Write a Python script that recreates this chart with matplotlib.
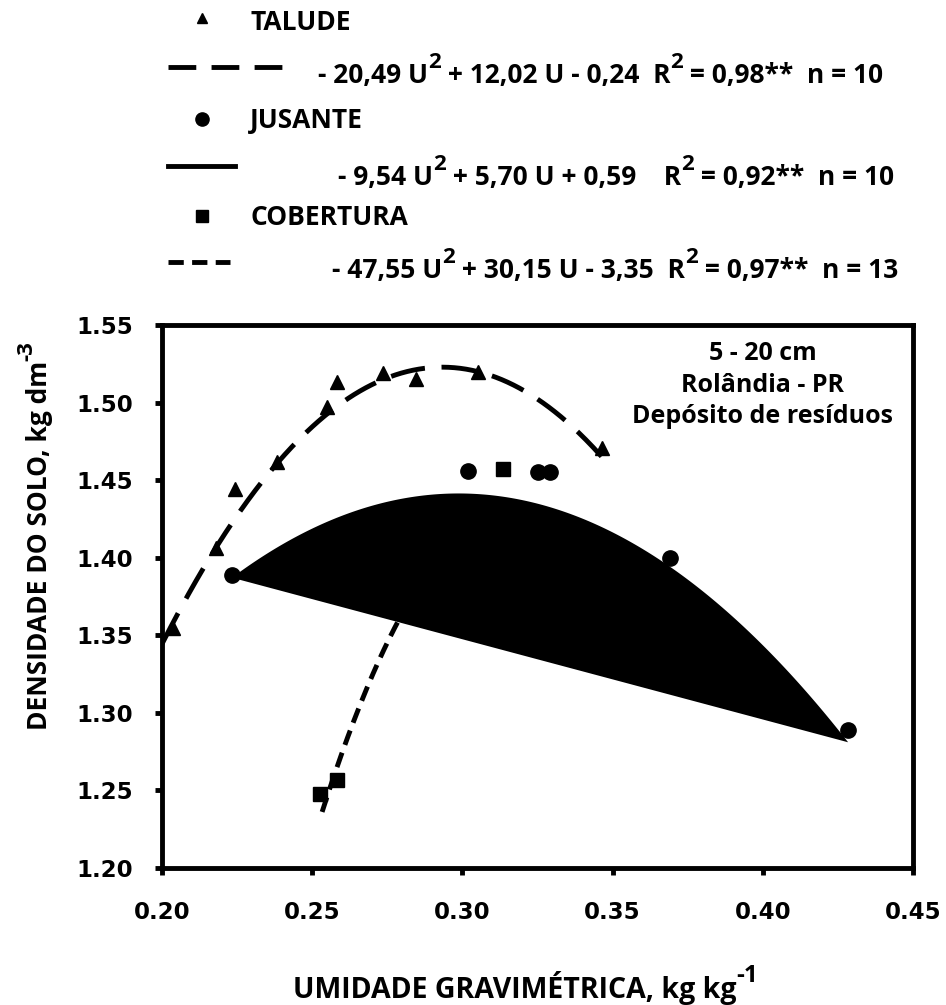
import matplotlib
matplotlib.use('Agg')
import matplotlib.pyplot as plt
import numpy as np
from matplotlib.lines import Line2D

plt.rcParams['lines.scale_dashes'] = False

# ---------------- data ----------------
talude_u = [0.2037, 0.2180, 0.2243, 0.2383, 0.2549, 0.2583, 0.2736, 0.2846, 0.3052, 0.3465]
talude_d = [1.355, 1.406, 1.444, 1.462, 1.497, 1.513, 1.519, 1.515, 1.520, 1.471]
jusante_u = [0.2233, 0.3019, 0.3252, 0.3292, 0.3691, 0.4284]
jusante_d = [1.389, 1.456, 1.455, 1.455, 1.400, 1.289]
cobertura_u = [0.2526, 0.2583, 0.3135]
cobertura_d = [1.248, 1.257, 1.457]

talude_coef = [-20.49, 12.02, -0.24]
jusante_coef = [-9.54, 5.70, 0.59]
cobertura_coef = [-47.55, 30.15, -3.35]
talude_range = [0.20, 0.347]
jusante_range = [0.2233, 0.4284]
cobertura_range = [0.2533, 0.3135]

series_names = ['TALUDE', 'JUSANTE', 'COBERTURA']
eq_parts = [
    [('- 20,49 U', False), ('2', True), (' + 12,02 U - 0,24  R', False), ('2', True), (' = 0,98**  n = 10', False)],
    [('- 9,54 U', False), ('2', True), (' + 5,70 U + 0,59    R', False), ('2', True), (' = 0,92**  n = 10', False)],
    [('- 47,55 U', False), ('2', True), (' + 30,15 U - 3,35  R', False), ('2', True), (' = 0,97**  n = 13', False)],
]
x_ticks = [0.20, 0.25, 0.30, 0.35, 0.40, 0.45]
y_ticks = [1.20, 1.25, 1.30, 1.35, 1.40, 1.45, 1.50, 1.55]
site_lines = ['5 - 20 cm', 'Rolândia - PR', 'Depósito de resíduos']
xlabel_parts = [('UMIDADE GRAVIMÉTRICA, kg kg', False), ('-1', True)]
ylabel_parts = [('DENSIDADE DO SOLO, kg dm', False), ('-3', True)]

# ---------------- figure ----------------
W, H = 946, 1005
fig = plt.figure(figsize=(W / 100, H / 100), dpi=100)
ax = fig.add_axes([162 / W, 1 - 868 / H, (913 - 162) / W, (868 - 325) / H])

LW = 3.5
def poly(c, u):
    u = np.asarray(u)
    return c[0] * u ** 2 + c[1] * u + c[2]

uc = np.linspace(*cobertura_range, 200)
ax.plot(uc, poly(cobertura_coef, uc), color='k', lw=LW, ls=(0, (11, 6)), zorder=2)

uj = np.linspace(*jusante_range, 300)
ax.fill(uj, poly(jusante_coef, uj), color='k', lw=0, zorder=3)

ut = np.linspace(*talude_range, 300)
ax.plot(ut, poly(talude_coef, ut), color='k', lw=LW, ls=(0, (25, 12)), zorder=3)

ax.plot(talude_u, talude_d, ls='none', marker='^', ms=10, color='k', zorder=5)
ax.plot(jusante_u, jusante_d, ls='none', marker='o', ms=11, color='k', zorder=5)
ax.plot(cobertura_u, cobertura_d, ls='none', marker='s', ms=9.5, color='k', zorder=5)

ax.set_xlim(0.20, 0.45)
ax.set_ylim(1.20, 1.55)
ax.set_xticks(x_ticks)
ax.set_yticks(y_ticks)
ax.set_xticklabels([f'{v:.2f}' for v in x_ticks])
ax.set_yticklabels([f'{v:.2f}' for v in y_ticks])
for s in ax.spines.values():
    s.set_linewidth(LW)
ax.tick_params(axis='both', direction='out', length=5, width=LW)
ax.tick_params(axis='x', pad=19)
ax.tick_params(axis='y', pad=16)
for lab in ax.get_xticklabels():
    lab.set_fontfamily('DejaVu Sans'); lab.set_fontweight('bold'); lab.set_fontsize(16.5)
for lab in ax.get_yticklabels():
    lab.set_fontfamily('DejaVu Sans'); lab.set_fontweight('bold'); lab.set_fontsize(16.5)

for txt, yf in zip(site_lines, [0.9355, 0.8766, 0.8195]):
    ax.text(0.80, yf, txt, transform=ax.transAxes, ha='center', va='baseline',
            fontfamily='Open Sans', fontweight='bold', fontsize=18)

# ---------------- rich text helper ----------------
renderer = fig.canvas.get_renderer()

def text_width(s, size):
    t1 = fig.text(0, 0, s + '|', fontsize=size, fontfamily='Open Sans', fontweight='bold')
    t2 = fig.text(0, 0, '|', fontsize=size, fontfamily='Open Sans', fontweight='bold')
    w = t1.get_window_extent(renderer).width - t2.get_window_extent(renderer).width
    t1.remove(); t2.remove()
    return w

def rich_text(x_px, y_px, parts, size, rotation=0, sup_scale=0.85, sup_raise=0.57):
    pos = 0.0
    for s, sup in parts:
        fs = size * sup_scale if sup else size
        rz = size * 100 / 72 * sup_raise if sup else 0.0
        if rotation == 0:
            xx, yy = x_px + pos, y_px - rz
        else:
            xx, yy = x_px - rz, y_px - pos
        fig.text(xx / W, 1 - yy / H, s, fontsize=fs, fontfamily='Open Sans', fontweight='bold',
                 ha='left', va='baseline', rotation=rotation, rotation_mode='anchor')
        pos += text_width(s, fs)

# axis labels
rich_text(293, 998, xlabel_parts, 20.5)
rich_text(47, 730, ylabel_parts, 19, rotation=90)

# ---------------- legend ----------------
marker_styles = ['^', 'o', 's']
marker_sizes = [7.5, 9.5, 8.5]
line_styles = [(0, (20, 11)), '-', (0, (11, 6))]
line_ends = [282, 235, 230]
marker_rows = [18, 119, 216]
name_base = [30, 128, 225]
line_rows = [67, 166, 262]
eq_base = [83, 185, 278]
eq_start = [318, 338, 332]
LEG = 19
for i in range(3):
    fig.add_artist(Line2D([202 / W], [1 - marker_rows[i] / H], marker=marker_styles[i],
                          ms=marker_sizes[i], color='k', ls='none'))
    fig.text(250 / W, 1 - name_base[i] / H, series_names[i], fontsize=LEG,
             fontfamily='Open Sans', fontweight='bold', ha='left', va='baseline')
    fig.add_artist(Line2D([168 / W, line_ends[i] / W], [1 - line_rows[i] / H] * 2,
                          lw=LW, ls=line_styles[i], color='k'))
    rich_text(eq_start[i], eq_base[i], eq_parts[i], LEG)

fig.savefig('out.png', dpi=100)
